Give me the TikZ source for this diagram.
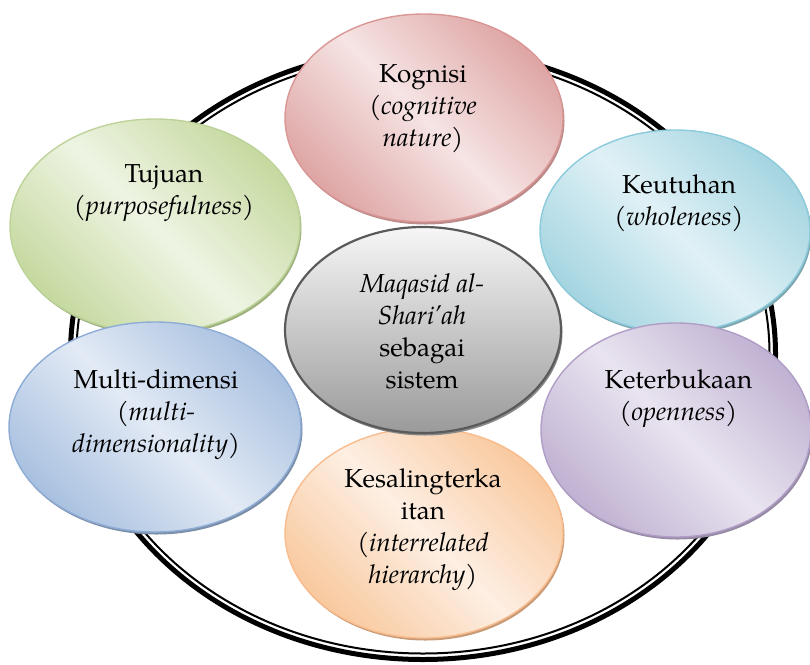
\documentclass[tikz,border=0pt]{standalone}
\usepackage{fontspec}
\setmainfont{TeX Gyre Pagella}
\usetikzlibrary{shapes.geometric}
\definecolor{redD}{HTML}{DEA6A5}\definecolor{redL}{HTML}{F6E4E4}\definecolor{redO}{HTML}{D99694}\definecolor{redS}{HTML}{B98A89}
\definecolor{grnD}{HTML}{C6D9A0}\definecolor{grnL}{HTML}{EEF4E3}\definecolor{grnO}{HTML}{BDD39A}\definecolor{grnS}{HTML}{9FB27E}
\definecolor{bluD}{HTML}{A9C1E0}\definecolor{bluL}{HTML}{E2EAF5}\definecolor{bluO}{HTML}{8EACD5}\definecolor{bluS}{HTML}{7C8FA8}
\definecolor{cyaD}{HTML}{A5D5E1}\definecolor{cyaL}{HTML}{E0F1F6}\definecolor{cyaO}{HTML}{8CCBDB}\definecolor{cyaS}{HTML}{7DA6B0}
\definecolor{purD}{HTML}{C0B2D2}\definecolor{purL}{HTML}{E9E4F0}\definecolor{purO}{HTML}{B09EC6}\definecolor{purS}{HTML}{968AA5}
\definecolor{oraD}{HTML}{F9C99F}\definecolor{oraL}{HTML}{FDEFE3}\definecolor{oraO}{HTML}{F8BC8E}\definecolor{oraS}{HTML}{C99A76}
\definecolor{gryT}{HTML}{F6F6F6}\definecolor{gryB}{HTML}{9A9A9A}\definecolor{gryO}{HTML}{5A5A5A}\definecolor{gryS}{HTML}{8A8A8A}
\tikzset{
  bubble/.style={ellipse, inner sep=0pt, line width=1.4pt},
  shadowbub/.style={ellipse, inner sep=0pt, draw=none},
  diag/.style n args={2}{left color=#1, right color=#1, middle color=#2, shading angle=-45},
  txt/.style={align=center, inner sep=0pt, anchor=north, font=\fontsize{26}{32}\selectfont},
  ringline/.style={ellipse, inner sep=0pt, draw=black},
}
\begin{document}
\begin{tikzpicture}[x=1pt,y=-1pt]
\useasboundingbox (0,0) rectangle (810,664);
% outer ring
\node[ringline, line width=5pt, minimum width=705pt, minimum height=611pt] (ringout) at (423,354) {};
\node[ringline, line width=2pt, minimum width=693pt, minimum height=599pt] (ringin) at (423,354) {};
% Kognisi
\node[shadowbub, fill=redS, minimum width=278pt, minimum height=208pt] (kogsh) at (425.5,120.5) {};
\node[bubble, draw=redO, diag={redD}{redL}, minimum width=278pt, minimum height=208pt] (kog) at (424,118) {};
\node[txt] (kogt) at (423,59.6) {\strut Kognisi\\\strut(\textit{cognitive}\\\strut\textit{nature})};
% Tujuan
\node[shadowbub, fill=grnS, minimum width=290pt, minimum height=214pt] (tujsh) at (156.5,228.5) {};
\node[bubble, draw=grnO, diag={grnD}{grnL}, minimum width=290pt, minimum height=214pt] (tuj) at (155,226) {};
\node[txt] (tujt) at (164,159.6) {\strut Tujuan\\\strut(\textit{purposefulness})};
% Keutuhan
\node[shadowbub, fill=cyaS, minimum width=270pt, minimum height=202pt] (keush) at (676.5,233.5) {};
\node[bubble, draw=cyaO, diag={cyaD}{cyaL}, minimum width=270pt, minimum height=202pt] (keu) at (675,231) {};
\node[txt] (keut) at (679,170.6) {\strut Keutuhan\\\strut(\textit{wholeness})};
% Kesalingterkaitan
\node[shadowbub, fill=oraS, minimum width=278pt, minimum height=210pt] (kessh) at (425.5,535.5) {};
\node[bubble, draw=oraO, diag={oraD}{oraL}, minimum width=278pt, minimum height=210pt] (kes) at (424,533) {};
\node[txt] (kest) at (423,464.6) {\strut Kesalingterka\\\strut itan\\\strut(\textit{interrelated}\\\strut\textit{hierarchy})};
% Multi-dimensi
\node[shadowbub, fill=bluS, minimum width=292pt, minimum height=210pt] (mulsh) at (156.5,429.5) {};
\node[bubble, draw=bluO, diag={bluD}{bluL}, minimum width=292pt, minimum height=210pt] (mul) at (155,427) {};
\node[txt] (mult) at (156,365.6) {\strut Multi-dimensi\\\strut(\textit{multi-}\\\strut\textit{dimensionality})};
% Keterbukaan
\node[shadowbub, fill=purS, minimum width=270pt, minimum height=214pt] (ketsh) at (677.5,432.5) {};
\node[bubble, draw=purO, diag={purD}{purL}, minimum width=270pt, minimum height=214pt] (ket) at (676,430) {};
\node[txt] (kett) at (678.5,365.6) {\strut Keterbukaan\\\strut(\textit{openness})};
% centre
\node[shadowbub, fill=gryS, minimum width=276pt, minimum height=206pt] (censh) at (424.5,332.5) {};
\node[bubble, draw=gryO, line width=2.2pt, top color=gryT, bottom color=gryB, minimum width=276pt, minimum height=206pt] (cen) at (423,330) {};
\node[txt] (cent) at (422,269.6) {\strut\textit{Maqasid al-}\\\strut\textit{Shari’ah}\\\strut sebagai\\\strut sistem};
\end{tikzpicture}
\end{document}
